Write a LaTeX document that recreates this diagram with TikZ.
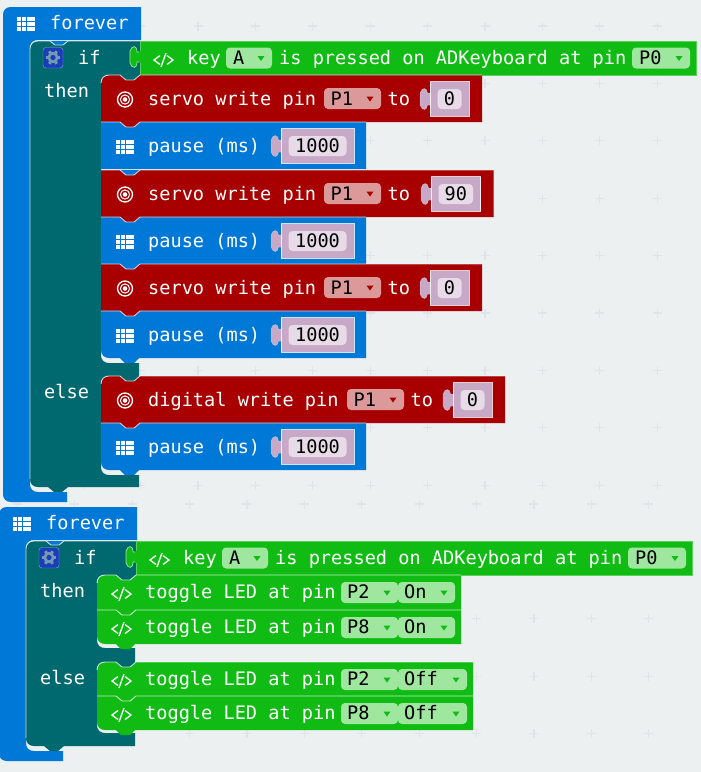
\documentclass[tikz,border=0pt]{standalone}
\usepackage{fontspec}
\setmonofont{DejaVu Sans Mono}
\usepackage{xcolor}

\definecolor{sheet}{HTML}{ECF0F1}
\definecolor{plusgrey}{HTML}{E0E4E6}
\definecolor{loopblue}{HTML}{0078D7}
\definecolor{logicteal}{HTML}{006970}
\definecolor{servored}{HTML}{A80000}
\definecolor{keygreen}{HTML}{10BC14}
\definecolor{slotlilac}{HTML}{C7A9C7}
\definecolor{slotpale}{HTML}{E8DBE8}
\definecolor{redpill}{HTML}{DC9999}
\definecolor{greenpill}{HTML}{9FE69F}
\definecolor{gearblue}{HTML}{1A3DB8}
\definecolor{geargrey}{HTML}{7399B4}

\newcommand{\blockfont}{\ttfamily\fontsize{18.6}{20}\selectfont}

\tikzset{
    blocklabel/.style={anchor=base west, inner sep=0pt, text=white, font=\blockfont},
    fieldlabel/.style={anchor=base west, inner sep=0pt, text=black, font=\blockfont},
    slotlabel/.style={anchor=base, inner sep=0pt, text=black, font=\blockfont},
    edgeline/.style={draw=white, draw opacity=0.75, line width=0.9pt},
    iconline/.style={draw=white, line width=1.3pt},
    plusmark/.style={draw=plusgrey, line width=1.2pt}
}

% One statement block: colour, colour above, top, bottom, right, top radius, bottom radius
\newcommand{\stmtblock}[7]{
    \fill [#1] (#5, #3) -- (101+#6, #3) .. controls (101+0.4*#6, #3) and (101, #3+0.4*#6) .. (101, #3+#6)
        -- (101, #4-#7) .. controls (101, #4-0.4*#7) and (101+0.4*#7, #4) .. (101+#7, #4) -- (#5, #4) -- cycle;
    \fill [#2] (120, #3) -- (126, #3+5) -- (134, #3+5) -- (140, #3) -- cycle;
    \draw [edgeline] (101, #3+#6) .. controls (101, #3+0.4*#6) and (101+0.4*#6, #3) .. (101+#6, #3)
        -- (120, #3) -- (126, #3+5) -- (134, #3+5) -- (140, #3) -- (#5, #3);
}
% Tooth under the last block of a branch
\newcommand{\lastbump}[2]{
    \fill [#1] (120, #2) -- (125, #2+5) -- (134, #2+5) -- (139, #2) -- cycle;
}
% Dropdown: name, left, right, top, fill, text
\newcommand{\droppill}[6]{
    \fill [#5, rounded corners=4pt] (#2, #4) rectangle (#3, #4+21);
    \fill [#6] (#3-14.5, #4+8.5) -- (#3-7.5, #4+8.5) -- (#3-11, #4+13.5) -- cycle;
}
% Number slot: name, left, right, top, value
\newcommand{\numslot}[5]{
    \fill [slotlilac, draw=white, draw opacity=0.35, line width=0.5pt] (#2+0.5, #4-6) -- (#2-2.5, #4-6) .. controls (#2-3, #4-12) and (#2-8, #4-12) .. (#2-10, #4-6)
        -- (#2-10, #4+6) .. controls (#2-8, #4+12) and (#2-3, #4+12) .. (#2-2.5, #4+6) -- (#2+0.5, #4+6) -- cycle;
    \fill [slotlilac, draw=white, draw opacity=0.8, line width=0.9pt] (#2, #4-17.5) rectangle (#3, #4+17);
    \fill [slotpale, rounded corners=4pt] (#2+7.5, #4-10) rectangle (#3-7.5, #4+10);
    \node [slotlabel] (#1) at ({(#2+#3)/2}, #4+6.5) {#5};
}
% Icons
\newcommand{\gridicon}[2]{
    \foreach \col in {0,...,3} \foreach \row in {0,1,2}
        \fill [white] (#1+\col*4.8, #2+\row*5) rectangle ++(3.9, 4);
}
\newcommand{\targeticon}[2]{
    \draw [iconline] (#1, #2) circle [radius=7.5];
    \draw [iconline, line width=1pt] (#1, #2) circle [radius=4.6];
    \fill [white] (#1, #2) circle [radius=2.3];
}
\newcommand{\codeicon}[2]{
    \draw [iconline] (#1+6, #2-4.5) -- (#1, #2) -- (#1+6, #2+4.5);
    \draw [iconline] (#1+7, #2+7) -- (#1+12, #2-7);
    \draw [iconline] (#1+13, #2-4.5) -- (#1+19, #2) -- (#1+13, #2+4.5);
}
% Pause row: name, colour above, top, bottom radius
\newcommand{\pauseblock}[4]{
    \stmtblock{loopblue}{#2}{#3}{#3+47}{366}{0}{#4}
    \gridicon{116}{#3+18}
    \node [blocklabel] (#1) at (148, #3+30) {pause (ms)};
    \numslot{#1val}{281}{354}{#3+24}{1000}
}
% Write row: name, colour above, top, top radius, text, pill left, slot left, slot right, value
\newcommand{\writeblock}[9]{
    \stmtblock{servored}{#2}{#3}{#3+47}{#8+13}{#4}{0}
    \targeticon{125}{#3+24.5}
    \node [blocklabel] (#1) at (148, #3+30) {#5};
    \droppill{#1pin}{#6}{#6+57}{#3+13}{redpill}{servored}
    \node [fieldlabel] (#1pin) at (#6+6.5, #3+30) {P1};
    \node [blocklabel] (#1to) at (#6+63.5, #3+30) {to};
    \numslot{#1val}{#7}{#8}{#3+24}{#9}
}
% Toggle row: name, colour above, top, bottom, top radius, bottom radius, right, pin, state
\newcommand{\toggleblock}[9]{
    \stmtblock{keygreen}{#2}{#3}{#4}{#7}{#5}{#6}
    \codeicon{116}{#3+19}
    \node [blocklabel] (#1) at (149, #3+23) {toggle LED at pin};
    \droppill{#1pin}{345}{402}{#3+7}{greenpill}{keygreen}
    \node [fieldlabel] (#1pin) at (351, #3+23) {#8};
    \droppill{#1st}{402}{#7-6}{#3+7}{greenpill}{keygreen}
    \node [fieldlabel] (#1st) at (408, #3+23) {#9};
}
% Forever and if frame: name, then end, else start, else end, frame end
\newcommand{\foreverframe}[5]{
    % Blue loop
    \fill [loopblue] (3, 15) .. controls (3, 10) and (6, 7) .. (11, 7) -- (141, 7) -- (141, 40) -- (38, 40)
        .. controls (33, 40) and (30, 43) .. (30, 48) -- (30, #5-3) .. controls (30, #5+2) and (33, #5+5) .. (38, #5+5)
        -- (67, #5+5) -- (67, #5+15) -- (11, #5+15) .. controls (6, #5+15) and (3, #5+12) .. (3, #5+7) -- cycle;
    \gridicon{17}{17}
    \node [blocklabel] (#1loop) at (50, 29) {forever};
    % Teal if
    \fill [logicteal] (30, 49) .. controls (30, 44) and (33, 41) .. (38, 41) -- (140, 41) -- (140, 75) -- (109, 75)
        .. controls (104, 75) and (101, 78) .. (101, 83) -- (101, #2-8) .. controls (101, #2-3) and (104, #2) .. (109, #2)
        -- (139, #2) -- (139, #3) -- (109, #3) .. controls (104, #3) and (101, #3+3) .. (101, #3+8)
        -- (101, #4-8) .. controls (101, #4-3) and (104, #4) .. (109, #4) -- (139, #4) -- (139, #5) -- (38, #5)
        .. controls (33, #5) and (30, #5-3) .. (30, #5-8) -- cycle;
    \fill [loopblue] (50, 41) -- (55, 45) -- (63, 45) -- (68, 41) -- cycle;
    \fill [logicteal] (48, #5) -- (54, #5+5) -- (62, #5+5) -- (68, #5) -- cycle;
    \draw [edgeline] (30, #5-8) -- (30, 49) .. controls (30, 44) and (33, 41) .. (38, 41) -- (50, 41) -- (55, 45)
        -- (63, 45) -- (68, 41) -- (140, 41);
    % Gear
    \fill [gearblue, draw=white, draw opacity=0.5, rounded corners=3pt] (43, 47.5) rectangle (63, 68);
    \foreach \ang in {0,60,...,300}
        \draw [geargrey, line width=3pt] (53, 57.5) -- ++(\ang:7.3);
    \fill [geargrey] (53, 57.5) circle [radius=5.6];
    \fill [gearblue] (53, 57.5) circle [radius=2.6];
    \node [blocklabel] (#1if) at (78, 64) {if};
    \node [blocklabel] (#1then) at (44, 97) {then};
    \node [blocklabel] (#1else) at (44, #3+22) {else};
    % Green key block
    \fill [keygreen, draw=keygreen!70!white, line width=0.9pt] (140, 41) rectangle (696, 75);
    \fill [keygreen, draw=keygreen!40!white, line width=0.7pt] (141, 52) -- (137, 52) .. controls (137, 45) and (132, 45) .. (130, 51)
        -- (130, 63) .. controls (132, 69) and (137, 69) .. (137, 62) -- (141, 62);
    \fill [keygreen] (139, 51) rectangle (142, 63);
    \codeicon{154}{60}
    \node [blocklabel] (#1key) at (187, 64) {key};
    \droppill{#1keyname}{226}{272}{47.5}{greenpill}{keygreen}
    \node [fieldlabel] (#1keyname) at (233, 64) {A};
    \node [blocklabel] (#1pressed) at (279, 64) {is pressed on ADKeyboard at pin};
    \droppill{#1keypin}{632}{690}{47.5}{greenpill}{keygreen}
    \node [fieldlabel] (#1keypin) at (639, 64) {P0};
}

\begin{document}
\begin{tikzpicture}[x=1pt, y=-1pt]
    \useasboundingbox (0, 0) rectangle (701, 772);
    % Sheet and its plus marks, one set for each capture
    \fill [sheet] (0, 0) rectangle (701, 772);
    \foreach \i in {0,...,11} \foreach \j in {0,...,8}
        \draw [plusmark] (25.8+\i*57.4-4.5, 26+\j*57.4) -- ++(9, 0) (25.8+\i*57.4, 26+\j*57.4-4.5) -- ++(0, 9);
    \foreach \i in {0,...,11} \foreach \j in {0,...,4}
        \draw [plusmark] (17.3+\i*57.4-4.5, 504+\j*57.4) -- ++(9, 0) (17.3+\i*57.4, 504+\j*57.4-4.5) -- ++(0, 9);

    % Upper program
    \foreverframe{up}{363}{376}{475}{487}
    \writeblock{servoa}{logicteal}{75}{8}{servo write pin}{324}{430}{469}{0}
    \pauseblock{pausea}{servored}{122}{0}
    \writeblock{servob}{loopblue}{170}{0}{servo write pin}{324}{431}{480.5}{90}
    \pauseblock{pauseb}{servored}{217}{0}
    \writeblock{servoc}{loopblue}{264}{0}{servo write pin}{324}{430}{469}{0}
    \pauseblock{pausec}{servored}{311}{8}
    \lastbump{loopblue}{358}
    \writeblock{digital}{logicteal}{376}{8}{digital write pin}{347}{453}{492}{0}
    \pauseblock{paused}{servored}{423}{8}
    \lastbump{loopblue}{470}

    % Lower program
    \begin{scope}[shift={(-4, 500)}]
        \foreverframe{low}{148}{162}{233}{246}
        \toggleblock{ledone}{logicteal}{75}{110}{8}{0}{465}{P2}{On}
        \toggleblock{ledtwo}{keygreen}{110}{144}{0}{8}{465}{P8}{On}
        \lastbump{keygreen}{144}
        \toggleblock{ledthree}{logicteal}{162}{196}{8}{0}{477}{P2}{Off}
        \toggleblock{ledfour}{keygreen}{196}{230}{0}{8}{477}{P8}{Off}
        \lastbump{keygreen}{230}
    \end{scope}
\end{tikzpicture}
\end{document}
